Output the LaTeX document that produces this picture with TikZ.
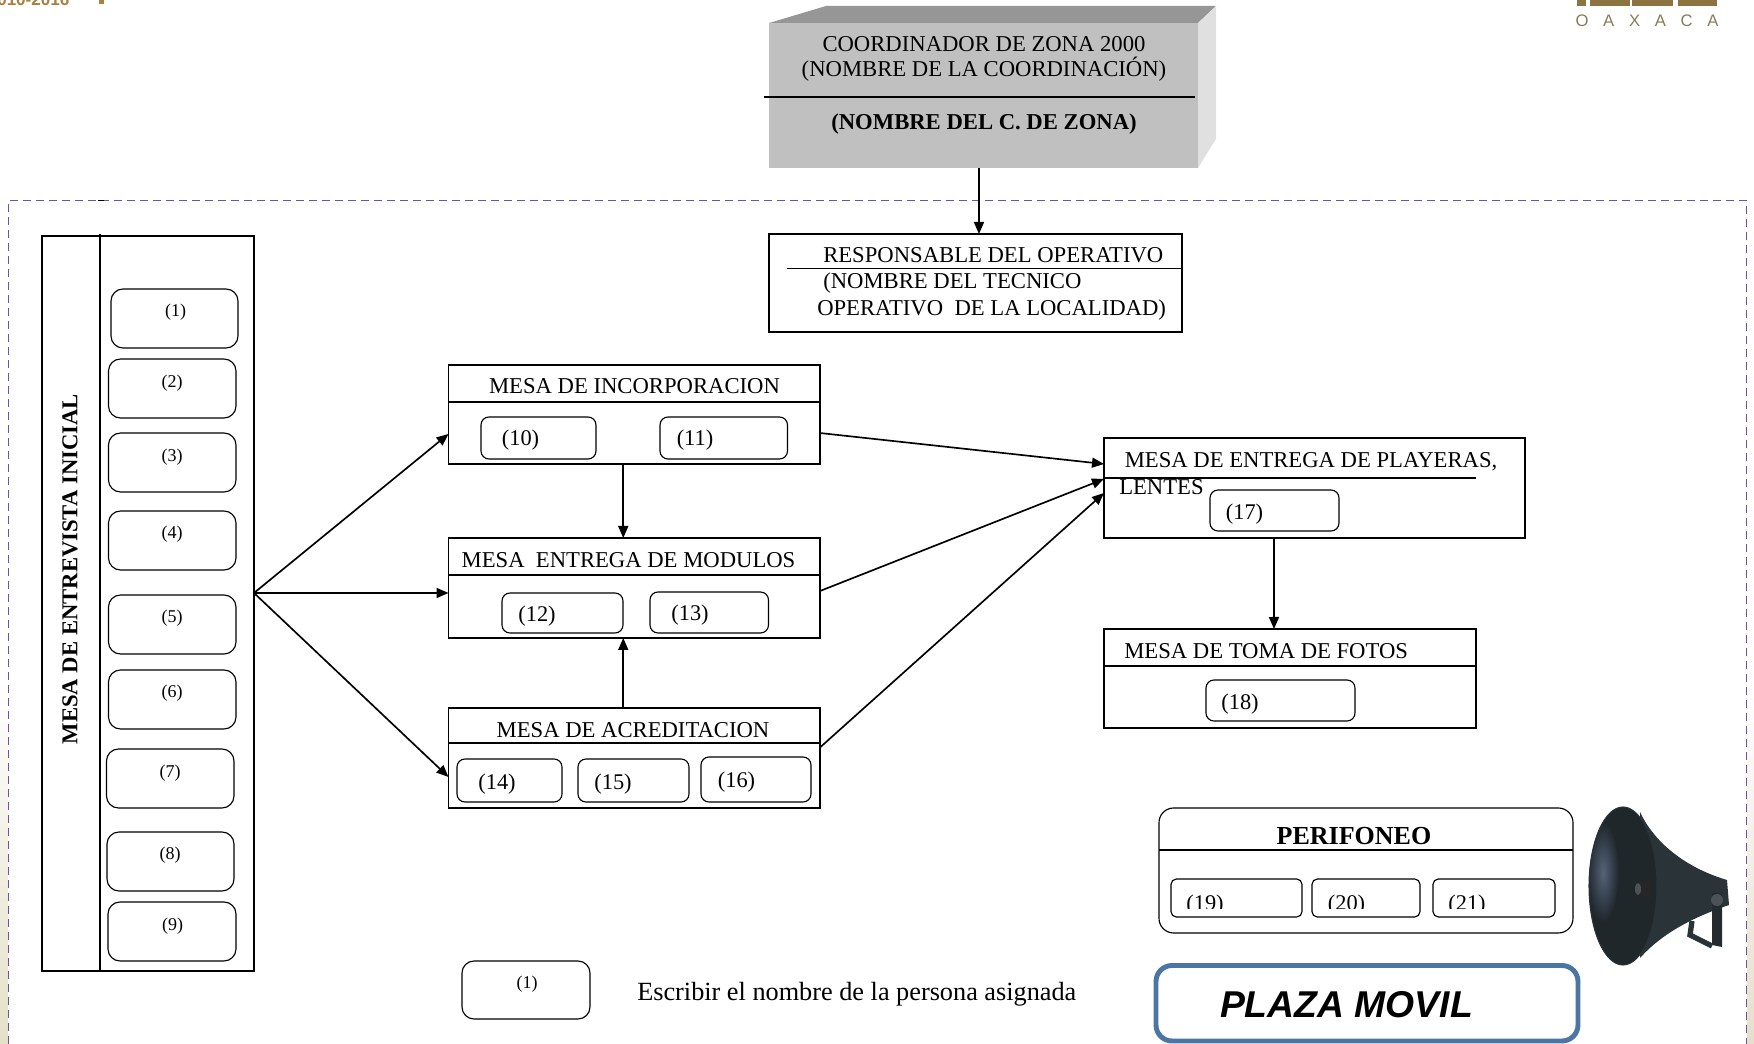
\documentclass[tikz,border=0pt]{standalone}
\usepackage{fontspec}
\usepackage{tikz}
\usetikzlibrary{arrows.meta,fit}
\setmainfont{Liberation Serif}
\newfontfamily\helvfont{Liberation Sans}
\definecolor{marco}{HTML}{7350A5}
\definecolor{frente}{HTML}{C0C0C0}
\definecolor{techo}{HTML}{969696}
\definecolor{costado}{HTML}{E0E0E0}
\definecolor{plaza}{HTML}{4A75A5}
\definecolor{dorado}{HTML}{8C7340}
\definecolor{letrero}{HTML}{8A7A55}
\definecolor{cobre}{HTML}{A8803F}
\definecolor{crema}{HTML}{E5E0C8}
\definecolor{bocina}{HTML}{2A3338}
\definecolor{fondobocina}{HTML}{1F272B}
\definecolor{brillo}{HTML}{55627A}
\newcommand{\tgrande}{\fontsize{17}{18.75}\selectfont}
\newcommand{\tmedio}{\fontsize{16.8}{18.75}\selectfont}
\newcommand{\tchico}{\fontsize{13.5}{16}\selectfont}
\tikzset{
  caja/.style={draw,line width=0.85pt,inner sep=0pt,outer sep=0pt},
  cajita/.style={caja,rounded corners=6pt},
  cajalista/.style={caja,rounded corners=9pt},
  flecha/.style={line width=1.25pt,-{Triangle[length=9pt,width=7.5pt]}},
  texto/.style={inner sep=0pt,font=\tgrande},
}

\begin{document}
\begin{tikzpicture}[x=0.75pt,y=0.75pt,yscale=-1,xscale=1]
\useasboundingbox (0,0) rectangle (1754,1044);

%Shape: page strips
\shade [top color=white,bottom color=crema] (0,680) rectangle (8,1044);
\shade [top color=white,bottom color=crema] (1747,680) rectangle (1754,1044);
%Shape: dashed frame
\draw [marco,line width=1.2pt,dash pattern=on 6pt off 3.75pt] (8.5,1044) -- (8.5,200.5) -- (1746.5,200.5) -- (1746.5,1044);
\draw [line width=0.9pt] (98,200.5) -- (104,200.5);

% Header bits
\draw (-3,6) node (hdr) [anchor=base west,inner sep=0pt,text=cobre,font=\helvfont\bfseries\fontsize{12.8}{14}\selectfont] {010-2016};
\fill [cobre] (99,0) rectangle (104,4);
\foreach \xa/\xb in {1577/1586,1590/1630,1632/1673,1678/1717}
  \fill [dorado] (\xa,0) rectangle (\xb,6);
\draw (1647,21) node (oaxaca) [inner sep=0pt,text=letrero,font=\helvfont\fontsize{12.5}{14}\selectfont] {\spaceskip=11pt O A X A C A};

%Shape: coordinator block
\fill [techo] (769,23) -- (826,6) -- (1216,6) -- (1198,23) -- cycle;
\fill [costado] (1198,23) -- (1216,6) -- (1216,139) -- (1198,168) -- cycle;
\node (coord) [inner sep=0pt,outer sep=0pt,fill=frente,fit={(769,23) (1198,168)}] {};
\draw [line width=0.9pt] (764,97) -- (1195,97);
% Text Node
\draw (984,59) node (tcoord) [texto,align=center] {COORDINADOR DE ZONA 2000\\(NOMBRE DE LA COORDINACIÓN)};
% Text Node
\draw (984,124) node (tzona) [texto,font=\tgrande\bfseries] {(NOMBRE DEL C. DE ZONA)};

%Shape: responsable
\node (resp) [caja,fit={(769,234) (1182,332)}] {};
\draw [line width=0.9pt] (787,268.5) -- (1182,268.5);
% Text Node
\draw (823,255) node (tresp) [texto,anchor=west] {RESPONSABLE DEL OPERATIVO};
% Text Node
\draw (823,283) node (tresp2) [texto,anchor=west] {(NOMBRE DEL TECNICO};
% Text Node
\draw (817,310) node (tresp3) [texto,anchor=west] {OPERATIVO\ \ DE LA LOCALIDAD)};

%Shape: entrevista list
\node (ini) [caja,fit={(42,236) (254,971)}] {};
\draw [line width=0.9pt] (100,234) -- (100,971);
% Text Node
\draw (70,569) node (tini) [texto,rotate=90,font=\tgrande\bfseries] {MESA DE ENTREVISTA INICIAL};
\foreach \n/\xa/\ya/\xb/\yb in {1/111/289/238/348,2/108.5/359/236/418,3/108.5/433/236/492,4/108.5/511/236/570,5/108.5/595/236/654,6/108.5/670/236/729,7/106.5/749/234/808,8/107/832/234/891,9/108/902/236/961}{
  \node (e\n) [cajalista,fit={(\xa,\ya) (\xb,\yb)}] {};
}
\foreach \n/\tx/\ty in {1/175.5/312,2/172/383,3/172/457,4/172/534,5/172/618,6/172/693,7/170/773,8/170/855,9/172.5/926}{
  \draw (\tx,\ty) node (te\n) [texto,font=\tchico] {(\n)};
}

%Shape: mesas
\node (inc) [caja,fit={(448.5,365) (820,464)}] {};
\draw [line width=0.9pt] (448.5,402) -- (820,402);
\draw (634.5,386) node (tinc) [texto] {MESA DE INCORPORACION};
\node (mod) [caja,fit={(448.5,538) (820,638)}] {};
\draw [line width=0.9pt] (448.5,575) -- (820,575);
\draw (628.5,560) node (tmod) [texto] {MESA\ \ ENTREGA DE MODULOS};
\node (acr) [caja,fit={(448.5,708) (820,808)}] {};
\draw [line width=0.9pt] (448.5,743) -- (820,743);
\draw (633,730) node (tacr) [texto] {MESA DE ACREDITACION};
\node (pla) [caja,fit={(1104,438) (1525,538)}] {};
\draw [line width=0.9pt] (1104,478) -- (1476,478);
\draw (1124.5,462) node (tpla) [texto,anchor=west] {MESA DE ENTREGA DE PLAYERAS,};
\draw (1119,487) node (tpla2) [texto,anchor=west] {LENTES};
\node (fot) [caja,fit={(1104,629) (1476,728)}] {};
\draw [line width=0.9pt] (1104,666) -- (1476,666);
\draw (1124,651) node (tfot) [texto,anchor=west] {MESA DE TOMA DE FOTOS};

%Shape: name boxes
\foreach \n/\xa/\ya/\xb/\yb in {10/481/417/596/459,11/660/417/787.5/459,12/502/593/623/633,13/650/592/768.5/633,14/457/759/562/802,15/578/759/689/802,16/701/757/811/802,17/1210/490/1339/531,18/1206/680/1355/721}{
  \node (c\n) [cajita,fit={(\xa,\ya) (\xb,\yb)}] {};
}
\foreach \n/\tx/\ty in {10/520.5/440,11/695/440,12/537/616,13/690/615,14/497/784,15/613/784,16/736.5/782,17/1244.5/514,18/1240/704}{
  \draw (\tx,\ty) node (tc\n) [texto,font=\tmedio] {(\n)};
}

%Straight Lines
\draw [flecha] ([xshift=-3.4pt]coord.south) -- ([xshift=2.6pt]resp.north);
\draw [flecha] ([yshift=-7.9pt]ini.east) -- ([yshift=14.6pt]inc.west);
\draw [flecha] ([yshift=-7.9pt]ini.east) -- ([yshift=3.75pt]mod.west);
\draw [flecha] ([yshift=-7.9pt]ini.east) -- ([yshift=14.25pt]acr.west);
\draw [flecha] ([xshift=-8.25pt]inc.south) -- ([xshift=-8.25pt]mod.north);
\draw [flecha] ([xshift=-8.25pt]acr.north) -- ([xshift=-8.25pt]mod.south);
\draw [flecha] ([yshift=13.9pt]inc.east) -- ([yshift=-18pt]pla.west);
\draw [flecha] ([yshift=2.25pt]mod.east) -- ([yshift=-6.75pt]pla.west);
\draw [flecha] ([yshift=-7.9pt]acr.east) -- ([yshift=3.75pt]pla.west);
\draw [flecha] ([xshift=-30.4pt]pla.south) -- ([xshift=-12pt]fot.north);

%Shape: legend
\node (ley) [cajalista,fit={(462,961) (590,1019)}] {};
\draw (527,984) node (tley) [texto,font=\tchico] {(1)};
\draw (637,994) node (tesc) [texto,anchor=west,font=\fontsize{19.7}{22}\selectfont] {Escribir el nombre de la persona asignada};

%Shape: perifoneo
\node (per) [caja,rounded corners=11pt,fit={(1159,808) (1573,933)}] {};
\draw [line width=0.9pt] (1159,850) -- (1573,850);
\draw (1354,836) node (tper) [texto,font=\fontsize{19.5}{22}\selectfont\bfseries] {PERIFONEO};
\foreach \n/\xa/\xb in {19/1171/1302,20/1312/1420,21/1433/1555}{
  \node (c\n) [cajita,rounded corners=4pt,fit={(\xa,879) (\xb,917)}] {};
}
\begin{scope}
\clip (1165,880) rectangle (1560,908);
\foreach \n/\tx in {19/1205,20/1346.5,21/1467}{
  \draw (\tx,905) node (tc\n) [texto,font=\tmedio] {(\n)};
}
\end{scope}

%Shape: plaza movil
\node (pm) [draw=plaza,line width=3.7pt,rounded corners=12pt,inner sep=0pt,outer sep=0pt,fit={(1156,965.5) (1578,1041)}] {};
\draw (1346.5,1005) node (tpm) [inner sep=0pt,font=\helvfont\bfseries\itshape\fontsize{28}{32}\selectfont] {PLAZA MOVIL};

%Shape: loudspeaker
\fill [bocina] (1640,812) .. controls (1652,838) and (1680,866) .. (1727,880) -- (1729,905) .. controls (1700,915) and (1665,930) .. (1640,958) -- cycle;
\fill [bocina!85!black] (1712,893) -- (1722,893) -- (1722,947) -- (1712,945) -- cycle;
\draw [bocina,line width=4pt] (1692,921) -- (1690,935) -- (1712,946);
\begin{scope}
\clip (1623,886) ellipse [x radius=34, y radius=79];
\fill [fondobocina] (1623,886) ellipse [x radius=34, y radius=79];
\shade [inner color=brillo,outer color=fondobocina] (1603,872) ellipse [x radius=16, y radius=50];
\end{scope}
\draw [bocina,line width=0.8pt] (1623,886) ellipse [x radius=34, y radius=79];
\fill [black!85] (1640,882) -- (1652,880) -- (1652,895) -- (1640,897) -- cycle;
\fill [bocina!60!gray] (1638,889) ellipse [x radius=3, y radius=6];
\fill [bocina!60!gray] (1717,900) circle (6);

\end{tikzpicture}
\end{document}
